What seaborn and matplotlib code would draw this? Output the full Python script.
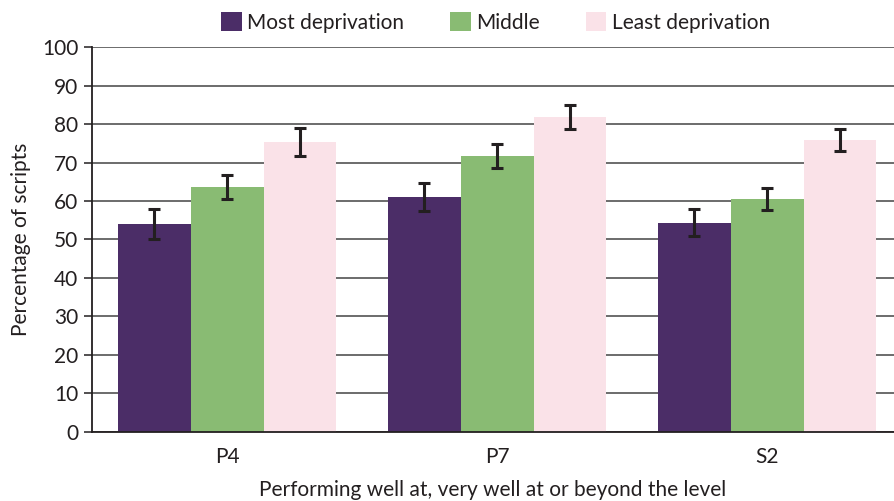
import numpy as np
import pandas as pd
import matplotlib
matplotlib.use("Agg")
import matplotlib.pyplot as plt
import seaborn as sns

levels = ["P4", "P7", "S2"]
groups = ["Most deprivation", "Middle", "Least deprivation"]
most = [54.0, 61.0, 54.3]
middle = [63.6, 71.7, 60.5]
least = [75.3, 81.8, 75.8]
most_err = [4.0, 3.7, 3.5]
middle_err = [3.2, 3.2, 2.9]
least_err = [3.7, 3.2, 2.9]
colors = ["#4b2d67", "#89bb73", "#fae2e8"]

df = pd.DataFrame({
    "level": levels * 3,
    "group": [g for g in groups for _ in levels],
    "value": most + middle + least,
})
errs = [most_err, middle_err, least_err]

sns.set_style("white")
plt.rcParams["font.family"] = ["Lato", "DejaVu Sans"]

fig = plt.figure(figsize=(8.94, 5.01), dpi=100)
ax = fig.add_axes([0.103, 0.138, 0.897, 0.768])

sns.barplot(data=df, x="level", y="value", hue="group", order=levels,
            hue_order=groups, palette=colors, width=0.81, saturation=1,
            errorbar=None, linewidth=0, ax=ax, zorder=2)

for cont, e in zip(ax.containers, errs):
    xs = [b.get_x() + b.get_width() / 2 for b in cont]
    hs = [b.get_height() for b in cont]
    ax.errorbar(xs, hs, yerr=e, fmt="none", ecolor="#231f20",
                elinewidth=2.2, capsize=4, capthick=2.2, zorder=3)

ax.set_ylim(0, 100)
ax.set_xlim(-0.5, 2.47)
ax.set_yticks(range(0, 101, 10))
ax.yaxis.grid(True, color="#444444", linewidth=1.1, zorder=0)
ax.set_axisbelow(True)

ax.set_xticks([0, 1, 2])
ax.set_xticks([-0.5, 0.5, 1.5], minor=True)
ax.tick_params(axis="x", which="major", length=0, pad=11, labelsize=15, colors="#231f20")
ax.tick_params(axis="x", which="minor", length=7, width=1.3, color="#231f20")
ax.tick_params(axis="y", length=6, width=1.1, color="#231f20", labelsize=15,
               labelcolor="#231f20", left=True, pad=4)

for s in ["top", "right"]:
    ax.spines[s].set_visible(False)
for s in ["left", "bottom"]:
    ax.spines[s].set_color("#231f20")
    ax.spines[s].set_linewidth(1.3)

ax.set_xlabel("Performing well at, very well at or beyond the level",
              fontsize=15, color="#231f20", labelpad=9)
ax.set_ylabel("Percentage of scripts", fontsize=15, color="#231f20", labelpad=8)

handles, labels = ax.get_legend_handles_labels()
ax.legend(handles, labels, loc="lower center", bbox_to_anchor=(0.503, 1.0),
          ncol=3, frameon=False, fontsize=15, handlelength=1.0, handleheight=1.0,
          columnspacing=2.2, handletextpad=0.25, labelcolor="#231f20",
          borderpad=0.2)

fig.savefig("out.png", dpi=100)
